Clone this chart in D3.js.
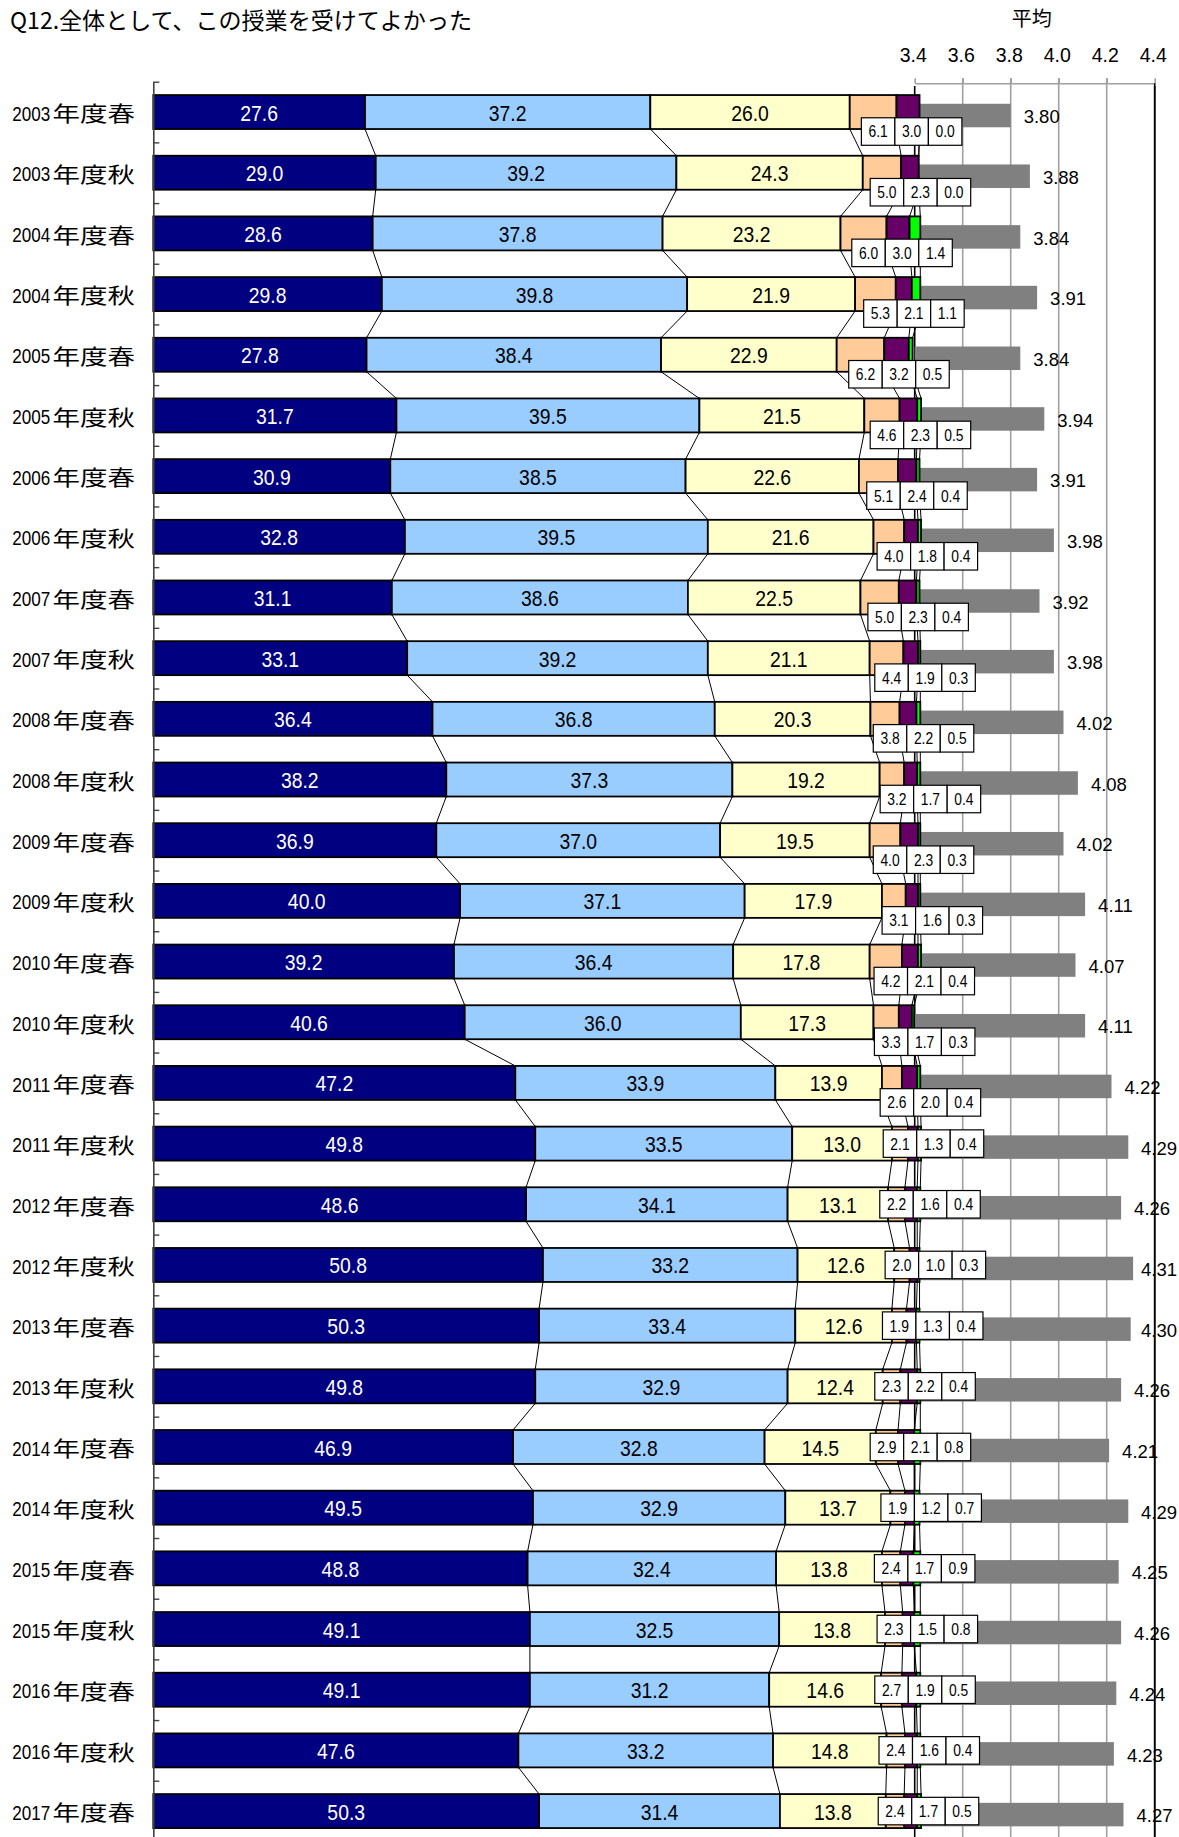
<!DOCTYPE html>
<html><head><meta charset="utf-8">
<script src="https://cdn.jsdelivr.net/npm/d3@7"></script>
<style>body{margin:0;background:#fff}svg{display:block}</style>
</head><body><svg id="c" width="1179" height="1837"></svg>
<script>
const title = "Q12.全体として、この授業を受けてよかった";
const meanTitle = "平均";
const categories = ["2003年度春","2003年度秋","2004年度春","2004年度秋","2005年度春","2005年度秋","2006年度春","2006年度秋","2007年度春","2007年度秋","2008年度春","2008年度秋","2009年度春","2009年度秋","2010年度春","2010年度秋","2011年度春","2011年度秋","2012年度春","2012年度秋","2013年度春","2013年度秋","2014年度春","2014年度秋","2015年度春","2015年度秋","2016年度春","2016年度秋","2017年度春"];
const s1 = [27.6,29.0,28.6,29.8,27.8,31.7,30.9,32.8,31.1,33.1,36.4,38.2,36.9,40.0,39.2,40.6,47.2,49.8,48.6,50.8,50.3,49.8,46.9,49.5,48.8,49.1,49.1,47.6,50.3];
const s2 = [37.2,39.2,37.8,39.8,38.4,39.5,38.5,39.5,38.6,39.2,36.8,37.3,37.0,37.1,36.4,36.0,33.9,33.5,34.1,33.2,33.4,32.9,32.8,32.9,32.4,32.5,31.2,33.2,31.4];
const s3 = [26.0,24.3,23.2,21.9,22.9,21.5,22.6,21.6,22.5,21.1,20.3,19.2,19.5,17.9,17.8,17.3,13.9,13.0,13.1,12.6,12.6,12.4,14.5,13.7,13.8,13.8,14.6,14.8,13.8];
const s4 = [6.1,5.0,6.0,5.3,6.2,4.6,5.1,4.0,5.0,4.4,3.8,3.2,4.0,3.1,4.2,3.3,2.6,2.1,2.2,2.0,1.9,2.3,2.9,1.9,2.4,2.3,2.7,2.4,2.4];
const s5 = [3.0,2.3,3.0,2.1,3.2,2.3,2.4,1.8,2.3,1.9,2.2,1.7,2.3,1.6,2.1,1.7,2.0,1.3,1.6,1.0,1.3,2.2,2.1,1.2,1.7,1.5,1.9,1.6,1.7];
const s6 = [0.0,0.0,1.4,1.1,0.5,0.5,0.4,0.4,0.4,0.3,0.5,0.4,0.3,0.3,0.4,0.3,0.4,0.4,0.4,0.3,0.4,0.4,0.8,0.7,0.9,0.8,0.5,0.4,0.5];
const means = [3.80,3.88,3.84,3.91,3.84,3.94,3.91,3.98,3.92,3.98,4.02,4.08,4.02,4.11,4.07,4.11,4.22,4.29,4.26,4.31,4.30,4.26,4.21,4.29,4.25,4.26,4.24,4.23,4.27];
const meanTicks = [3.4,3.6,3.8,4.0,4.2,4.4];
const firstCenteredBoxRow = "2011年度秋";

const keys = ["s1","s2","s3","s4","s5","s6"];
const colors = {s1:"#000080",s2:"#99CCFF",s3:"#FFFFCC",s4:"#FFCC99",s5:"#660066",s6:"#00FF00"};
const rows = categories.map((c,i)=>({cat:c,s1:s1[i],s2:s2[i],s3:s3[i],s4:s4[i],s5:s5[i],s6:s6[i],mean:means[i]}));

const svg = d3.select("#c");
const W = 1179, H = 1837;

const x = d3.scaleLinear().domain([0,100]).range([153.3,920.3]);
const mx = d3.scaleLinear().domain([3.4,4.4]).range([914.7,1154.7]);
const step = 60.68;
const y0 = 81.7;
const y = d3.scaleBand().domain(categories).range([y0, y0+categories.length*step]).paddingInner(0.44).paddingOuter(0.22);
const bw = y.bandwidth();

const stack = d3.stack().keys(keys)(rows);

function ntext(g, xx, yy, str, size, sx, fill, anchor, family){
  return g.append("text")
    .attr("transform",`translate(${xx},${yy}) scale(${sx},1)`)
    .attr("text-anchor",anchor||"middle")
    .style("font-family",family||"'Liberation Sans', Arial, sans-serif")
    .style("font-size",size+"px")
    .attr("fill",fill||"#000")
    .text(str);
}

// title
svg.append("text").attr("x",10).attr("y",28.5)
  .style("font-family","'Noto Sans CJK JP', sans-serif").style("font-size","23px")
  .attr("textLength",462).attr("lengthAdjust","spacingAndGlyphs")
  .text(title);

// mean title
svg.append("text").attr("x",1031.7).attr("y",26).attr("text-anchor","middle")
  .style("font-family","'Noto Sans CJK JP', sans-serif").style("font-size","20px")
  .text(meanTitle);

// grid for mean axis
const gridG = svg.append("g");
meanTicks.forEach(t=>{
  const inner = t>3.41 && t<4.39;
  gridG.append("line").attr("x1",mx(t)).attr("x2",mx(t))
    .attr("y1", inner?78.3:86).attr("y2",H)
    .attr("stroke", inner?"#a0a0a0":"#000").attr("stroke-width",1.6);
});
// mean axis top
const axT = svg.append("g").attr("transform","translate(0,83.3)")
  .call(d3.axisTop(mx).tickValues(meanTicks).tickSize(5).tickSizeOuter(0).tickFormat(d3.format(".1f")));
axT.select(".domain").attr("stroke","#a0a0a0").attr("stroke-width",1.6);
axT.selectAll(".tick line").attr("stroke","#a0a0a0").attr("stroke-width",1.6);
axT.selectAll(".tick text").attr("y",-21.3).attr("dx","-2")
  .style("font-family","'Liberation Sans', Arial, sans-serif").style("font-size","19.5px").attr("fill","#000");

// mean bars
const gy = c => y(c)+bw/2+3.5;
svg.append("g").selectAll("rect").data(rows).join("rect")
  .attr("x", mx(3.4)).attr("width", d=>mx(d.mean)-mx(3.4))
  .attr("y", d=>gy(d.cat)-11.75).attr("height",23.5)
  .attr("fill","#808080");

// series lines
const slG = svg.append("g");
stack.forEach(layer=>{
  for(let i=0;i<rows.length-1;i++){
    slG.append("line")
      .attr("x1",x(layer[i][1])).attr("y1",y(rows[i].cat)+bw)
      .attr("x2",x(layer[i+1][1])).attr("y2",y(rows[i+1].cat))
      .attr("stroke","#000").attr("stroke-width",1);
  }
});

// stacked bars
const barG = svg.append("g");
stack.forEach(layer=>{
  barG.append("g").selectAll("rect").data(layer.filter(d=>d[1]-d[0]>0)).join("rect")
    .attr("x",d=>x(d[0])).attr("width",d=>x(d[1])-x(d[0]))
    .attr("y",d=>y(d.data.cat)).attr("height",bw)
    .attr("fill",colors[layer.key]).attr("stroke","#000").attr("stroke-width",1.8);
});

// bar labels for first three series
const lblG = svg.append("g");
stack.slice(0,3).forEach(layer=>{
  layer.forEach(d=>{
    const cx = (x(d[0])+x(d[1]))/2;
    const cy = y(d.data.cat)+bw/2;
    ntext(lblG, cx, cy+8.5, d3.format(".1f")(d[1]-d[0]), 22, 0.88, layer.key==="s1"?"#fff":"#000");
  });
});

// boxed labels for the small series
const boxG = svg.append("g");
const centerFrom = categories.indexOf(firstCenteredBoxRow);
rows.forEach((r,i)=>{
  const peachC = (x(stack[3][i][0])+x(stack[3][i][1]))/2;
  const centered = i>=centerFrom;
  const c1 = centered ? peachC : peachC+5;
  const cy = centered ? y(r.cat)+bw/2 : y(r.cat)+bw+2.5;
  const bwid = 33.5, bh = 27.5;
  [r.s4,r.s5,r.s6].forEach((v,k)=>{
    const cx = c1 + k*bwid;
    boxG.append("rect").attr("x",cx-bwid/2).attr("y",cy-bh/2).attr("width",bwid).attr("height",bh)
      .attr("fill","#fff").attr("stroke","#000").attr("stroke-width",1.2);
    ntext(boxG, cx, cy+5.9, d3.format(".1f")(v), 16.5, 0.84, "#000");
  });
});

// mean labels (kept inside the chart area)
const mlG = svg.append("g");
rows.forEach(r=>{
  mlG.append("text").attr("x",Math.min(mx(r.mean)+13, 1141)).attr("y",gy(r.cat)+7.6)
    .style("font-family","'Liberation Sans', Arial, sans-serif").style("font-size","18.5px")
    .text(d3.format(".2f")(r.mean));
});

// right border line over labels
svg.append("line").attr("x1",mx(4.4)).attr("x2",mx(4.4)).attr("y1",83.3).attr("y2",H)
  .attr("stroke","#000").attr("stroke-width",1.6);

// category axis
const idx = d3.scaleLinear().domain([0,categories.length]).range(y.range());
const axL = svg.append("g").attr("transform",`translate(${x(0)},0)`)
  .call(d3.axisRight(idx).tickValues(d3.range(categories.length+1)).tickSize(6).tickSizeOuter(0).tickFormat(""));
axL.select(".domain").attr("stroke","#404040").attr("stroke-width",1.6);
axL.selectAll(".tick line").attr("stroke","#404040").attr("stroke-width",1.4);

// category labels
const catG = svg.append("g");
categories.forEach(c=>{
  const cy = y(c)+bw/2+1.3;
  catG.append("text").attr("x",12.3).attr("y",cy+7.3)
    .style("font-family","'Liberation Sans', Arial, sans-serif").style("font-size","20px")
    .attr("textLength",38).attr("lengthAdjust","spacingAndGlyphs")
    .text(c.slice(0,4));
  catG.append("text").attr("x",52.5).attr("y",cy+8)
    .style("font-family","'Noto Sans CJK JP', sans-serif").style("font-size","21px")
    .attr("textLength",82.5).attr("lengthAdjust","spacingAndGlyphs")
    .text(c.slice(4));
});
</script></body></html>
